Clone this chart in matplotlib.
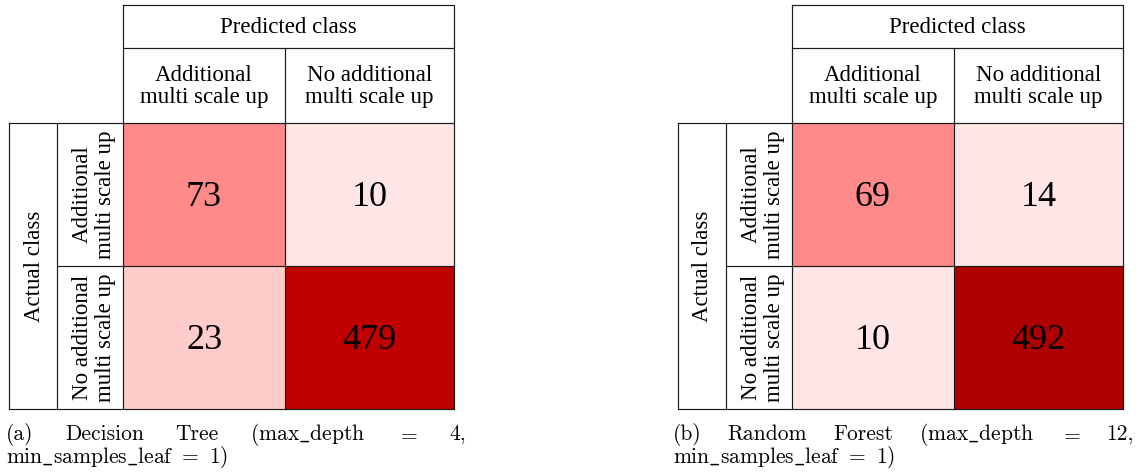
import matplotlib
matplotlib.use("Agg")
import matplotlib.pyplot as plt
import numpy as np
from matplotlib.colors import ListedColormap, BoundaryNorm

# ---- data -----------------------------------------------------------------
class_labels = ["Additional\nmulti scale up", "No additional\nmulti scale up"]
header_label = "Predicted class"
side_label = "Actual class"

tree_counts = [[73, 10],
               [23, 479]]
forest_counts = [[69, 14],
                 [10, 492]]

caption_a_words = ["(a)", "Decision", "Tree", r"(max$\_$depth", "$=$", "4,"]
caption_a_tail = r"min$\_$samples$\_$leaf $=$ 1)"
caption_b_words = ["(b)", "Random", "Forest", r"(max$\_$depth", "$=$", "12,"]
caption_b_tail = r"min$\_$samples$\_$leaf $=$ 1)"

# ---- styling ----------------------------------------------------------------
cell_bounds = [0, 20, 50, 200, 485, 1000]
cell_colors = ["#FFE6E6", "#FFCCCC", "#FF8A8A", "#C00000", "#AE0000"]
cmap = ListedColormap(cell_colors)
norm = BoundaryNorm(cell_bounds, cmap.N)

plt.rcParams["mathtext.fontset"] = "cm"
TABLE_FONT = "Liberation Serif"
CAPTION_FONT = ["cmr10", "DejaVu Serif"]
LINE_KW = dict(color="#1a1a1a", lw=0.85, solid_capstyle="projecting")

W, H = 1143, 476
fig = plt.figure(figsize=(W / 100, H / 100), dpi=100)
ax = fig.add_axes([0, 0, 1, 1])
ax.set_xlim(0, W)
ax.set_ylim(H, 0)
ax.axis("off")


def draw_table(counts, x0):
    # column / row edges of the tabular layout (pixels)
    L, I, M0, M1, M2 = x0, x0 + 48, x0 + 114, x0 + 276, x0 + 445
    T, H1, MT, R1, B = 5, 48, 123, 266, 409
    counts = np.asarray(counts)

    ax.pcolormesh([M0, M1, M2], [MT, R1, B], counts, cmap=cmap, norm=norm,
                  shading="flat", zorder=1)

    # ruled lines of the table
    ax.plot([M0, M2, M2, M0, M0], [T, T, B, B, T], **LINE_KW, zorder=3)
    ax.plot([M0, M2], [H1, H1], **LINE_KW, zorder=3)
    ax.plot([M1, M1], [H1, B], **LINE_KW, zorder=3)
    ax.plot([L, M2], [MT, MT], **LINE_KW, zorder=3)
    ax.plot([L, M0], [B, B], **LINE_KW, zorder=3)
    ax.plot([L, L], [MT, B], **LINE_KW, zorder=3)
    ax.plot([I, I], [MT, B], **LINE_KW, zorder=3)
    ax.plot([I, M2], [R1, R1], **LINE_KW, zorder=3)

    fs = 16.5
    ax.text((M0 + M2) / 2, (T + H1) / 2 + 1, header_label, ha="center",
            va="center", fontsize=fs, family=TABLE_FONT)
    col_edges = [M0, M1, M2]
    row_edges = [MT, R1, B]
    for j, lab in enumerate(class_labels):
        ax.text((col_edges[j] + col_edges[j + 1]) / 2, (H1 + MT) / 2 + 1, lab,
                ha="center", va="center", fontsize=fs, family=TABLE_FONT,
                linespacing=1.12, multialignment="center")
    for i, lab in enumerate(class_labels):
        ax.text((I + M0) / 2 + 4, (row_edges[i] + row_edges[i + 1]) / 2, lab,
                ha="center", va="center", rotation=90, fontsize=fs,
                family=TABLE_FONT, linespacing=1.12, multialignment="center")
    ax.text((L + I) / 2 + 1, (MT + B) / 2, side_label, ha="center",
            va="center", rotation=90, fontsize=fs, family=TABLE_FONT)

    num_fs = 26
    for i in range(2):
        for j in range(2):
            cx = (col_edges[j] + col_edges[j + 1]) / 2
            cy = (row_edges[i] + row_edges[i + 1]) / 2
            ax.text(cx, cy + 0.33 * num_fs * 100 / 72, f"{counts[i, j]}",
                    ha="center", va="baseline", fontsize=num_fs,
                    family=TABLE_FONT, color="black", zorder=4)


def draw_caption(words, tail, x_left, x_right, y1, y2, fs=15.5):
    # first line is fully justified, second line left-aligned
    texts = [ax.text(0, y1, w, ha="left", va="baseline", fontsize=fs,
                     family=CAPTION_FONT) for w in words]
    fig.canvas.draw()
    r = fig.canvas.get_renderer()
    widths = [t.get_window_extent(r).width for t in texts]
    gap = (x_right - x_left - sum(widths)) / (len(words) - 1)
    x = x_left
    for t, w in zip(texts, widths):
        t.set_x(x)
        x += w + gap
    ax.text(x_left, y2, tail, ha="left", va="baseline", fontsize=fs,
            family=CAPTION_FONT)


draw_table(tree_counts, 9)
draw_table(forest_counts, 678)
draw_caption(caption_a_words, caption_a_tail, 6, 466, 440, 463)
draw_caption(caption_b_words, caption_b_tail, 673, 1134, 440, 463)

fig.savefig("out.png", dpi=100)
